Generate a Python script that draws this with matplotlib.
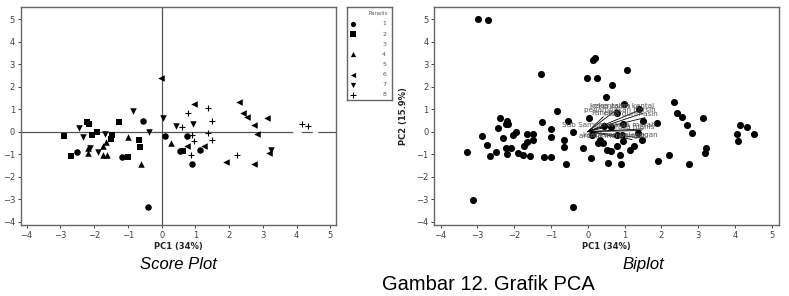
import numpy as np
import matplotlib.pyplot as plt

# score plot: PC1/PC2 scores per panelist
panelis = ['1', '2', '3', '4', '5', '6', '7', '8']
score_x = {
    '1': [-0.55, -2.52, -1.19, -0.42, 0.10, 0.74, 0.89, 1.14, 0.55],
    '2': [-2.90, -2.69, -2.20, -2.14, -2.06, -1.93, -1.48, -1.50, -1.27, -1.01, -0.66, -0.63, 0.62],
    '3': [4.00],
    '4': [-2.19, -2.18, -1.75, -1.74, -1.61, -1.65, -1.00, -0.60, 0.28],
    '5': [4.55],
    '6': [-0.02, 0.97, 0.76, 2.30, 2.42, 2.54, 2.73, 2.83, 3.12, 3.17, 1.90, 2.75, 1.26],
    '7': [-2.44, -2.32, -2.12, -1.90, -1.68, -0.84, -0.37, 0.03, 0.42, 0.94, 3.23],
    '8': [0.79, 0.59, 1.38, 1.49, 0.89, 1.38, 0.95, 1.50, 0.86, 2.22, 4.15, 4.35],
}
score_y = {
    '1': [0.46, -0.89, -1.12, -3.33, -0.18, -0.18, -1.46, -0.82, -0.85],
    '2': [-0.18, -1.07, 0.43, 0.35, -0.13, 0.00, -0.16, -0.35, 0.43, -1.12, -0.37, -0.68, -0.85],
    '3': [0.00],
    '4': [-0.97, -0.75, -0.65, -1.02, -1.05, -0.45, -0.25, -1.42, -0.52],
    '5': [0.00],
    '6': [2.38, 1.22, -0.63, 1.33, 0.83, 0.64, 0.28, -0.10, 0.62, -0.97, -1.33, -1.45, -0.64],
    '7': [0.18, -0.26, -0.73, -0.90, -0.12, 0.92, -0.02, 0.62, 0.27, 0.35, -0.80],
    '8': [0.82, 0.21, 1.05, 0.47, -0.17, -0.07, -0.42, -0.36, -1.03, -1.03, 0.32, 0.23],
}
markers = {'1': 'o', '2': 's', '3': 'D', '4': '^', '5': 'p', '6': '<', '7': 'v', '8': '+'}
colors = {'1': 'black', '2': 'black', '3': 'white', '4': 'black', '5': 'white',
          '6': 'black', '7': 'black', '8': 'black'}

# biplot scores
bi_x = [-2.99, -2.71, -3.28, -3.11, -2.88, -2.73, -2.66, -2.50, -2.39, -2.43, -2.31,
        -2.22, -2.19, -2.16, -2.23, -2.19, -2.09, -2.03, -1.96, -1.89, -1.75, -1.74,
        -1.66, -1.64, -1.58, -1.48, -1.48, -1.26, -1.24, -1.18, -0.99, -0.99, -0.99,
        -0.85, -0.66, -0.64, -0.59, -0.54, -0.39, -0.39, -0.13, -0.03, 0.04, 0.09,
        0.13, 0.20, 0.24, 1.07, 0.66, 0.49, 0.98, 1.38, 0.80, 1.49, 0.96, 0.45, 0.62,
        1.88, 2.33, 2.43, 2.55, 2.70, 2.83, 3.13, 3.22, 3.17, 4.12, 4.31, 4.06, 4.08,
        4.52, 2.20, 1.91, 2.75, 0.89, 0.54, 0.29, 0.42, 0.53, 0.62, 0.78, 0.87, 1.14,
        1.25, 0.96, 1.36, 1.47, 0.78, 0.92, 0.11, 0.33]
bi_y = [5.01, 4.98, -0.89, -3.03, -0.18, -0.59, -1.07, -0.89, 0.62, 0.18, -0.27,
        0.35, 0.46, 0.33, -0.74, -1.00, -0.71, -0.13, 0.00, -0.93, -1.05, -0.64,
        -0.12, -0.48, -1.07, -0.12, -0.37, 2.55, 0.43, -1.13, 0.13, -0.25, -1.13,
        0.92, -0.37, -0.68, -1.44, 0.46, 0.00, -3.33, -0.71, 2.38, 0.62, -1.16,
        3.20, 3.26, 2.38, 2.76, 2.08, 1.52, 1.22, 1.00, 0.81, 0.49, 0.33, 0.25, 0.21,
        0.40, 1.30, 0.84, 0.65, 0.30, -0.08, 0.62, -0.75, -0.97, 0.31, 0.20, -0.12,
        -0.40, -0.12, -1.03, -1.32, -1.45, -1.46, -1.41, -0.52, -0.52, -0.82, -0.85,
        -0.62, -1.03, -0.82, -0.62, -0.40, -0.07, -0.37, -0.17, -0.17, -0.17, -0.37]

# loading vectors (scaled) and their labels
load_names = ['rasa asam', 'kekentalan kental', 'penampakan bersih', 'Panelis',
              'rasa gurih-asin', 'Sub Sampel', 'warna merah', 'rasa manis',
              'aroma menyengat', 'kesukaan pelanggan']
load_x = [0.80, 1.45, 1.50, 0.42, 1.55, 0.12, 1.50, 1.45, 1.20, 1.55]
load_y = [1.00, 0.98, 0.82, 0.66, 0.62, 0.15, 0.12, 0.05, -0.35, -0.30]

ticks = np.arange(-4, 6)
tick_color = '#444444'

fig = plt.figure(figsize=(7.89, 2.96), dpi=100)
ax1 = fig.add_axes([0.0262, 0.2399, 0.3993, 0.7365])
ax2 = fig.add_axes([0.5504, 0.2399, 0.4373, 0.7365])


def style_axes(ax, xlim):
    ax.set_xlim(xlim)
    ax.set_ylim(-4.15, 5.54)
    ax.set_xticks(ticks)
    ax.set_yticks(ticks)
    ax.tick_params(labelsize=6, colors=tick_color, length=2.5, width=0.7, pad=1.5)
    for s in ax.spines.values():
        s.set_color('#666666')
        s.set_linewidth(1.0)
    ax.set_xlabel('PC1 (34%)', fontsize=6, fontweight='bold', color='#222222', labelpad=2)
    ax.set_ylabel('PC2 (15.9%)', fontsize=6, fontweight='bold', color='#222222')


# Score plot
style_axes(ax1, (-4.18, 5.16))
ax1.axhline(0, color='#555555', lw=0.9, zorder=1)
ax1.axvline(0, color='#555555', lw=0.9, zorder=1)
for p in panelis:
    lw = 0.8 if markers[p] == '+' else 0
    ax1.scatter(score_x[p], score_y[p], marker=markers[p], s=22, c=colors[p],
                linewidths=lw, zorder=3)
ax1.yaxis.set_label_coords(-0.069, 0.5)

# legend box
lax = fig.add_axes([0.4394, 0.662, 0.0574, 0.3144])
lax.set_xlim(0, 1)
lax.set_ylim(0, 1)
lax.set_xticks([])
lax.set_yticks([])
for s in lax.spines.values():
    s.set_color('#666666')
    s.set_linewidth(1.0)
lax.text(0.9, 0.925, 'Panelis', fontsize=4, color='#555555', ha='right', va='center')
for i, p in enumerate(panelis):
    yy = 1 - (24 + 10.1 * i - 7) / 93
    lw = 0.8 if markers[p] == '+' else 0
    lax.scatter([0.15], [yy], marker=markers[p], s=14, c=colors[p], linewidths=lw)
    lax.text(0.87, yy, p, fontsize=4.5, color='#555555', ha='right', va='center')

# Biplot
style_axes(ax2, (-4.17, 5.2))
ax2.scatter(bi_x, bi_y, marker='o', s=26, c='black', linewidths=0, zorder=3)
for name, lx, ly in zip(load_names, load_x, load_y):
    ax2.plot([0, lx], [0, ly], color='black', lw=0.6, zorder=2)
    ax2.text(lx + 0.35, ly + 0.02, name, fontsize=5.2, color='#555555',
             ha='right', va='bottom', zorder=4)
ax2.yaxis.set_label_coords(-0.076, 0.5)

# captions
cap_font = ['Liberation Sans Narrow', 'Liberation Sans', 'DejaVu Sans']
fig.text(0.2256, 0.108, 'Score Plot', fontsize=12, style='italic', family=cap_font,
         ha='center', va='center')
fig.text(0.816, 0.108, 'Biplot', fontsize=12, style='italic', family=cap_font,
         ha='center', va='center')
fig.text(0.619, 0.04, 'Gambar 12. Grafik PCA', fontsize=14.5, family=cap_font,
         ha='center', va='center')

fig.savefig('out.png', dpi=100)
